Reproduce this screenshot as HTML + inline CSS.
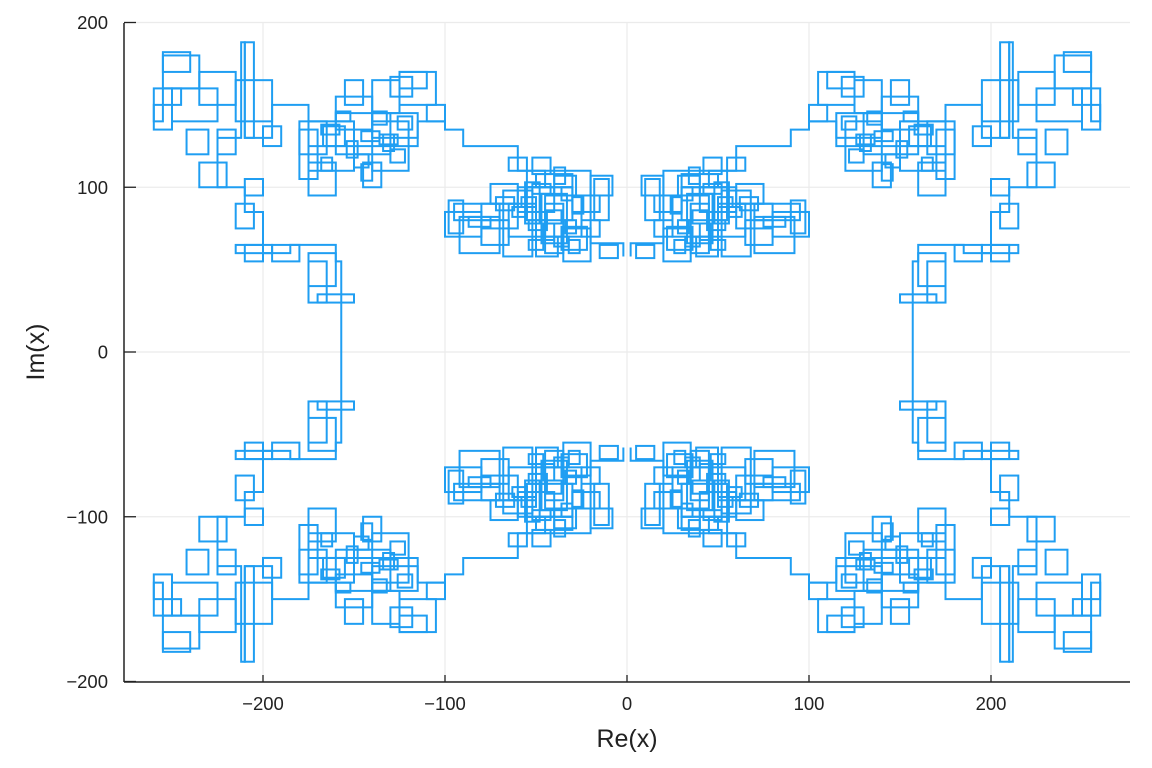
<!DOCTYPE html>
<html><head><meta charset="utf-8"><style>
html,body{margin:0;padding:0;background:#fff;width:1152px;height:768px;overflow:hidden}
text{font-family:"Liberation Sans","DejaVu Sans",sans-serif;fill:#222}
</style></head><body>
<svg id="chart" width="1152" height="768" viewBox="0 0 1152 768" xmlns="http://www.w3.org/2000/svg">
<g id="grid"></g>
<g id="marks"></g>
<g id="axes"></g>
<text x="627" y="747" font-size="25" text-anchor="middle">Re(x)</text>
<text x="44" y="352" font-size="25" text-anchor="middle" transform="rotate(-90 44 352)">Im(x)</text>
</svg>
<script>
const xTicks=[-200,-100,0,100,200];
const yTicks=[-200,-100,0,100,200];
// quadrant boxes (top-right); mirrored to the other quadrants
const boxX=[5,20,25,30,35,40,15,28,45,50,60,65,70,80,10,55,22,38,48,30,15,60,90,105,115,120,130,140,150,160,125,145,165,110,135,155,100,170,118,195,205,215,225,235,245,240,250,220,215,190,255,230,200,200,205,195,180,160,165,150,8,42,33,52,70,
 26,32,40,44,36,24,50,30,42,34,46,28,55,62,75,122,128,136,142,148,158,132,140,152,162,126,118];
const boxY=[57,55,70,80,60,85,85,95,100,70,75,65,80,70,80,110,62,58,78,100,70,90,72,150,130,110,120,135,110,95,145,150,120,160,100,125,140,105,155,140,130,150,140,160,150,170,135,100,120,125,140,120,95,55,75,60,55,40,30,30,95,108,66,58,60,
 60,64,68,74,78,84,88,92,96,102,62,72,82,86,76,115,122,128,112,118,132,138,104,140,110,126,135];
const boxW=[10,15,20,25,10,20,15,12,10,15,20,15,25,20,8,10,14,12,8,20,10,15,8,20,25,20,30,20,25,15,15,10,15,15,10,12,10,10,12,20,5,20,25,20,10,15,10,15,10,10,5,12,10,10,10,20,15,15,10,20,12,10,14,16,22,
 6,8,6,10,8,6,8,6,10,6,8,6,8,10,12,8,6,10,8,6,10,8,6,8,6,10,8];
const boxH=[8,20,25,20,30,15,10,12,10,20,15,15,10,15,25,8,14,12,25,8,10,12,20,20,15,30,25,20,30,20,20,15,20,10,15,12,10,30,12,25,58,20,20,20,10,12,25,15,15,12,10,15,10,10,15,5,10,20,25,5,12,10,30,40,22,
 8,6,10,6,8,10,6,8,6,10,6,8,6,8,6,8,10,6,8,10,6,8,10,6,8,6,8];
const pathX=[2,2,20,20,60,60,90,90,100,100,115,115,175,175,195,195,210,210,212,212,225,225,210,210,200,200,185,185,160,160,157,157];
const pathY=[58,66,66,110,110,125,125,135,135,140,140,125,125,150,150,130,130,188,188,130,130,100,100,85,85,60,60,65,65,55,55,0];
const X=v=>627+v*1.82, Y=v=>352-v*1.6475;
const NS="http://www.w3.org/2000/svg";
function mk(t,a,p){const e=document.createElementNS(NS,t);for(const k in a)e.setAttribute(k,a[k]);p.appendChild(e);return e;}
const grid=document.getElementById('grid'),axes=document.getElementById('axes'),marks=document.getElementById('marks');
xTicks.forEach(t=>{
 const g=mk('line',{x1:X(t),x2:X(t),y1:23,y2:682,stroke:'#ebebeb','stroke-width':1.2},grid);
 
 
 const tk=mk('line',{x1:X(t),x2:X(t),y1:682,y2:675,stroke:'#222','stroke-width':1.3},axes);
 
 
 const l=mk('text',{x:X(t),y:710,'font-size':18.5,'text-anchor':'middle'},axes);
 l.textContent=(t<0?'\u2212'+(-t):t);
 
 
});
yTicks.forEach(t=>{
 const g=mk('line',{x1:124,x2:1130,y1:Y(t),y2:Y(t),stroke:'#ebebeb','stroke-width':1.2},grid);
 
 
 const tk=mk('line',{x1:124,x2:136,y1:Y(t),y2:Y(t),stroke:'#222','stroke-width':1.3},axes);
 
 
 const l=mk('text',{x:108,y:Y(t)+6.5,'font-size':18.5,'text-anchor':'end'},axes);
 l.textContent=(t<0?'\u2212'+(-t):t);
 
 
});
const ax1=mk('line',{x1:124,x2:124,y1:23,y2:682,stroke:'#222','stroke-width':1.5},axes);


const ax2=mk('line',{x1:124,x2:1130,y1:682,y2:682,stroke:'#222','stroke-width':1.5},axes);


const col='#1f9ef2';
[[1,1],[-1,1],[1,-1],[-1,-1]].forEach(([sx,sy])=>{
 for(let i=0;i<boxX.length;i++){
  const xa=X(sx*boxX[i]),xb=X(sx*(boxX[i]+boxW[i])),ya=Y(sy*boxY[i]),yb=Y(sy*(boxY[i]+boxH[i]));
  const r=mk('rect',{x:Math.min(xa,xb),y:Math.min(ya,yb),width:Math.abs(xb-xa),height:Math.abs(yb-ya),fill:'none',stroke:col,'stroke-width':2},marks);
  
  
 }
 const d=pathX.map((v,i)=>(i?'L':'M')+X(sx*v)+' '+Y(sy*pathY[i])).join(' ');
 const p=mk('path',{d:d,fill:'none',stroke:col,'stroke-width':2},marks);
 
 
});
</script>
</body></html>
